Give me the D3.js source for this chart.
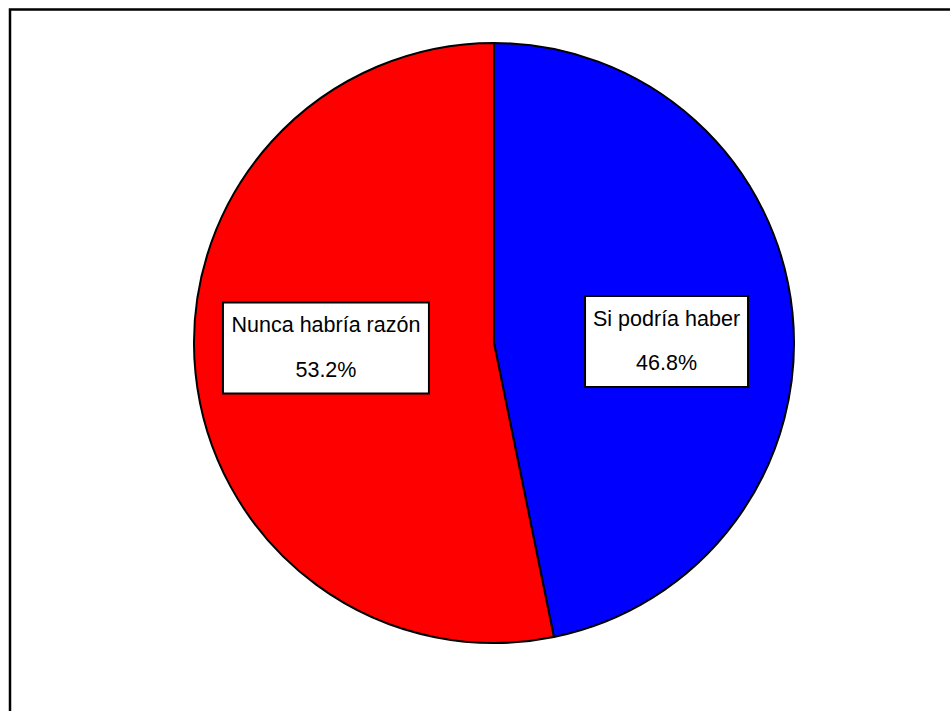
<!DOCTYPE html>
<html><head><meta charset="utf-8">
<script src="https://cdn.jsdelivr.net/npm/d3@7"></script>
<style>html,body{margin:0;padding:0;background:#fff;}svg{display:block;}</style>
</head><body>
<svg id="chart" width="950" height="711"></svg>
<script>
const categories = ["Si podría haber", "Nunca habría razón"];
const values = [46.8, 53.2];
const valueLabels = ["46.8%", "53.2%"];
const colors = ["#0000ff", "#ff0000"];
const labelRadiusFactor = [0.578, 0.563];
const labelYOffset = [-1.5, 5];
const boxWidths = [163, 206];

const svg = d3.select("#chart");
// frame (extends past right/bottom edges like the reference)
svg.append("rect").attr("x", 10).attr("y", 9.5).attr("width", 960).attr("height", 720)
  .attr("fill", "none").attr("stroke", "#000").attr("stroke-width", 2.5);

const cx = 494, cy = 343, R = 300;
const g = svg.append("g").attr("transform", `translate(${cx},${cy})`);
const pie = d3.pie().sort(null).value(d => d)(values);
const arc = d3.arc().innerRadius(0).outerRadius(R);

g.selectAll("path.slice").data(pie).join("path").attr("class", "slice")
  .attr("d", arc).attr("fill", (d, i) => colors[i])
  .attr("stroke", "#000").attr("stroke-width", 2).attr("stroke-linejoin", "round");

const boxH = 91;
const font = "'Liberation Sans', Arial, sans-serif";
pie.forEach((d, i) => {
  const c = d3.arc().innerRadius(0).outerRadius(2 * R * labelRadiusFactor[i]).centroid(d);
  const x = c[0], y = labelYOffset[i];
  const lg = g.append("g").attr("transform", `translate(${x},${y})`);
  lg.append("rect").attr("x", -boxWidths[i] / 2).attr("y", -boxH / 2)
    .attr("width", boxWidths[i]).attr("height", boxH)
    .attr("fill", "#fff").attr("stroke", "#000").attr("stroke-width", 2);
  lg.append("text").attr("x", 0).attr("y", -16).attr("text-anchor", "middle")
    .attr("font-family", font).attr("font-size", 21.5)
    .attr("fill", "#000").text(categories[i]);
  lg.append("text").attr("x", 0).attr("y", 28.5).attr("text-anchor", "middle")
    .attr("font-family", font).attr("font-size", 21.5)
    .attr("fill", "#000").text(valueLabels[i]);
});
</script>
</body></html>
